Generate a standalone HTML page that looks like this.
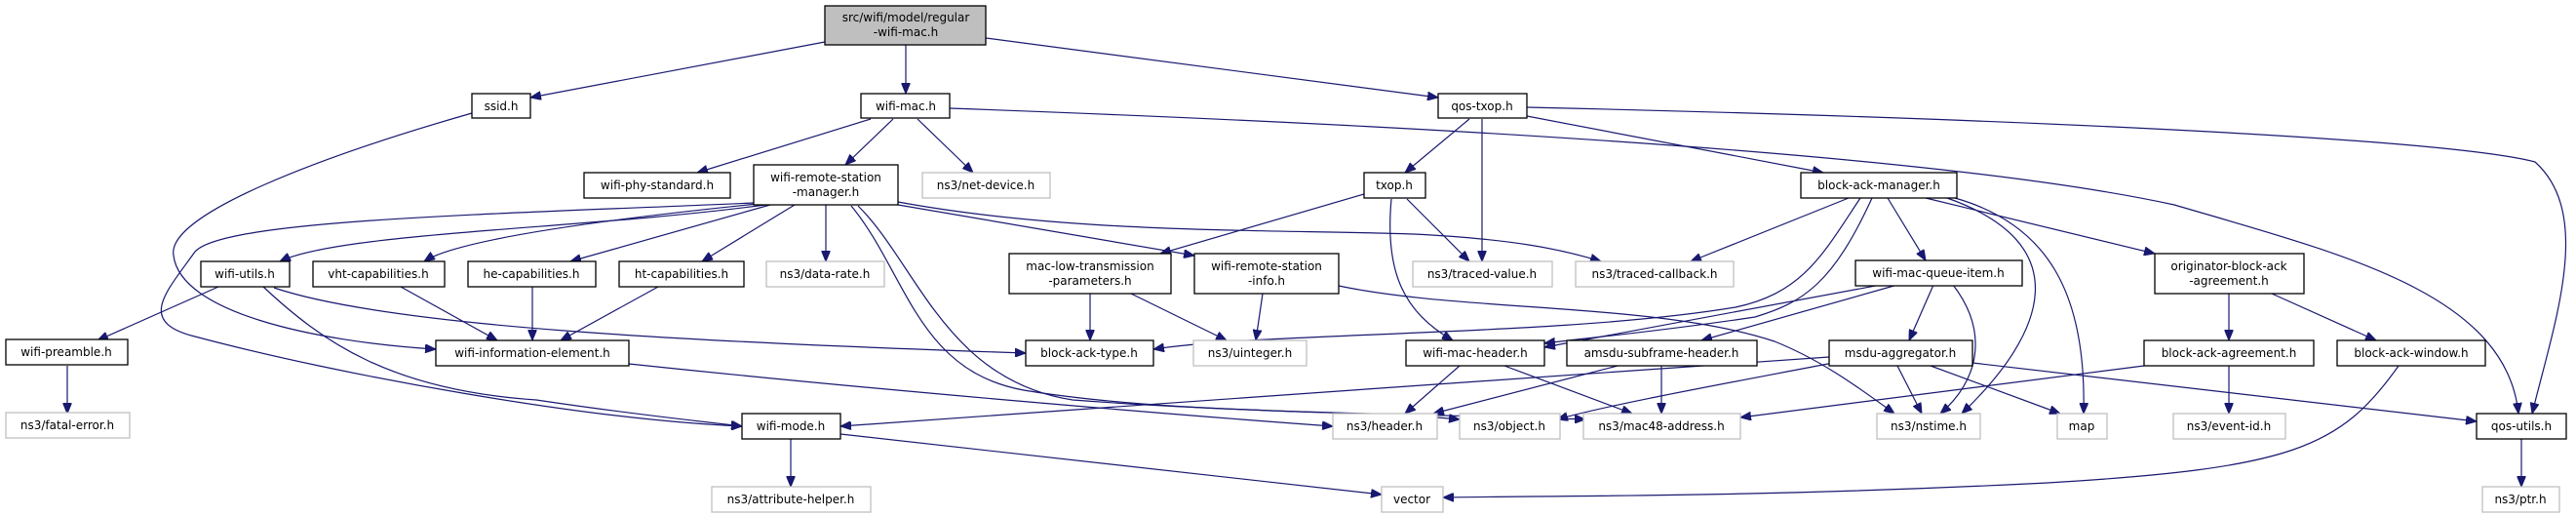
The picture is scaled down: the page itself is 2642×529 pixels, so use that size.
<!DOCTYPE html>
<html><head><meta charset="utf-8"><style>
html,body{margin:0;padding:0;background:#fff;}
svg{display:block;}
text{font-family:"DejaVu Sans","Liberation Sans",sans-serif;font-size:12px;fill:#000;text-anchor:middle;}
.n{fill:#fff;stroke:#000;stroke-width:1.3;}
.g{fill:#fff;stroke:#bfbfbf;stroke-width:1.3;}
.r{fill:#bfbfbf;stroke:#000;stroke-width:1.3;}
path.e{fill:none;stroke:#191970;stroke-width:1.2;marker-end:url(#a);}
</style></head><body>
<svg width="2642" height="529" viewBox="0 0 2642 529" xmlns="http://www.w3.org/2000/svg">
<defs><marker id="a" markerWidth="12" markerHeight="9" refX="11" refY="4.5" orient="auto" markerUnits="userSpaceOnUse"><path d="M0,0 L11,4.5 L0,9 Z" fill="#191970" stroke="#191970"/></marker></defs>

<!-- edges -->
<path class="e" d="M846,43 L544,100"/>
<path class="e" d="M929,46 L929,96"/>
<path class="e" d="M1011,39 L1475,100"/>
<path class="e" d="M484,116 C330,160 170,220 178,262 C185,320 320,350 447,358"/>
<path class="e" d="M893,122 L715,177"/>
<path class="e" d="M916,122 L867,169"/>
<path class="e" d="M941,122 L998,177"/>
<path class="e" d="M974,111 C1500,130 2000,160 2230,210 C2400,260 2570,300 2583,424"/>
<path class="e" d="M1566,110 C2000,120 2500,140 2600,166 C2660,220 2620,330 2597,424"/>
<path class="e" d="M1507,122 L1441,177"/>
<path class="e" d="M1520,122 L1520,268"/>
<path class="e" d="M1566,119 L1870,177"/>
<path class="e" d="M785,210 C600,235 350,238 287,268"/>
<path class="e" d="M777,209 C620,225 470,245 435,268"/>
<path class="e" d="M790,210 L585,268"/>
<path class="e" d="M815,210 L720,268"/>
<path class="e" d="M847,210 L847,268"/>
<path class="e" d="M773,208 C500,220 230,225 200,258 C170,300 140,330 200,345 C350,385 600,430 761,437"/>
<path class="e" d="M281,295 C400,335 700,350 1052,362"/>
<path class="e" d="M645,373 C900,400 1200,425 1367,437"/>
<path class="e" d="M873,211 C930,280 940,380 1050,400 C1200,425 1400,420 1497,430"/>
<path class="e" d="M880,211 C940,270 970,390 1100,410 C1300,425 1500,425 1626,430"/>
<path class="e" d="M921,210 L1225,262"/>
<path class="e" d="M921,207 C1100,240 1300,235 1450,240 C1550,245 1600,255 1642,268"/>
<path class="e" d="M1399,199 L1190,260"/>
<path class="e" d="M1427,204 C1420,280 1440,320 1490,349"/>
<path class="e" d="M1443,204 L1507,268"/>
<path class="e" d="M1118,301 L1118,349"/>
<path class="e" d="M1160,301 L1258,349"/>
<path class="e" d="M1295,301 L1288,349"/>
<path class="e" d="M1373,293 C1500,320 1700,310 1820,350 C1870,370 1910,400 1943,424"/>
<path class="e" d="M1896,203 L1734,268"/>
<path class="e" d="M1908,203 C1870,260 1850,300 1780,315 C1600,345 1300,340 1183,358"/>
<path class="e" d="M1920,203 C1880,290 1850,310 1800,325 C1700,340 1640,345 1584,352"/>
<path class="e" d="M1929,292 L1584,356"/>
<path class="e" d="M1936,203 L1975,267"/>
<path class="e" d="M1997,203 C2130,250 2100,340 2012,424"/>
<path class="e" d="M2005,203 C2100,230 2140,300 2137,424"/>
<path class="e" d="M1975,203 L2210,260"/>
<path class="e" d="M1946,292 L1745,349"/>
<path class="e" d="M1983,292 L1958,349"/>
<path class="e" d="M2003,292 C2040,340 2030,390 1990,424"/>
<path class="e" d="M1497,375 L1441,424"/>
<path class="e" d="M1543,375 L1674,424"/>
<path class="e" d="M1659,375 L1470,424"/>
<path class="e" d="M1704,375 L1704,424"/>
<path class="e" d="M1876,366 C1600,385 1100,420 862,437"/>
<path class="e" d="M1880,372 C1760,395 1650,415 1597,430"/>
<path class="e" d="M1946,375 L1971,424"/>
<path class="e" d="M1980,375 L2113,424"/>
<path class="e" d="M2023,372 L2540,432"/>
<path class="e" d="M2286,301 L2286,349"/>
<path class="e" d="M2330,301 L2437,349"/>
<path class="e" d="M2199,375 L1785,428"/>
<path class="e" d="M2286,375 L2286,424"/>
<path class="e" d="M2460,375 C2400,460 2350,480 2100,495 C1800,510 1600,508 1480,510"/>
<path class="e" d="M2586,450 L2586,499"/>
<path class="e" d="M811,450 L811,499"/>
<path class="e" d="M862,445 L1417,507"/>
<path class="e" d="M224,294 L100,349"/>
<path class="e" d="M270,294 C330,350 400,400 550,410 C650,425 720,432 761,437"/>
<path class="e" d="M411,294 L510,349"/>
<path class="e" d="M546,294 L546,349"/>
<path class="e" d="M675,294 L575,349"/>
<path class="e" d="M69,375 L69,424"/>

<!-- nodes -->
<rect class="r" x="846" y="6" width="165" height="40"/><text x="929" y="22">src/wifi/model/regular</text><text x="929" y="37">-wifi-mac.h</text>
<rect class="n" x="484" y="96" width="60" height="25"/><text x="514" y="113">ssid.h</text>
<rect class="n" x="883" y="96" width="91" height="25"/><text x="929" y="113">wifi-mac.h</text>
<rect class="n" x="1475" y="96" width="91" height="25"/><text x="1520" y="113">qos-txop.h</text>
<rect class="n" x="599" y="177" width="150" height="26"/><text x="674" y="194">wifi-phy-standard.h</text>
<rect class="n" x="773" y="169" width="148" height="41"/><text x="847" y="186">wifi-remote-station</text><text x="847" y="201">-manager.h</text>
<rect class="g" x="946" y="177" width="131" height="26"/><text x="1011" y="194">ns3/net-device.h</text>
<rect class="n" x="1399" y="177" width="63" height="26"/><text x="1430" y="194">txop.h</text>
<rect class="n" x="1847" y="177" width="160" height="26"/><text x="1927" y="194">block-ack-manager.h</text>
<rect class="n" x="206" y="268" width="91" height="26"/><text x="251" y="285">wifi-utils.h</text>
<rect class="n" x="321" y="268" width="135" height="26"/><text x="388" y="285">vht-capabilities.h</text>
<rect class="n" x="480" y="268" width="131" height="26"/><text x="545" y="285">he-capabilities.h</text>
<rect class="n" x="635" y="268" width="128" height="26"/><text x="699" y="285">ht-capabilities.h</text>
<rect class="g" x="786" y="268" width="121" height="26"/><text x="846" y="285">ns3/data-rate.h</text>
<rect class="n" x="1035" y="260" width="166" height="41"/><text x="1118" y="277">mac-low-transmission</text><text x="1118" y="292">-parameters.h</text>
<rect class="n" x="1225" y="260" width="148" height="41"/><text x="1299" y="277">wifi-remote-station</text><text x="1299" y="292">-info.h</text>
<rect class="g" x="1449" y="268" width="143" height="26"/><text x="1520" y="285">ns3/traced-value.h</text>
<rect class="g" x="1616" y="268" width="162" height="26"/><text x="1697" y="285">ns3/traced-callback.h</text>
<rect class="n" x="1903" y="267" width="171" height="26"/><text x="1988" y="284">wifi-mac-queue-item.h</text>
<rect class="n" x="2210" y="260" width="153" height="41"/><text x="2286" y="277">originator-block-ack</text><text x="2286" y="292">-agreement.h</text>
<rect class="n" x="6" y="348" width="125" height="26"/><text x="68" y="365">wifi-preamble.h</text>
<rect class="n" x="447" y="349" width="198" height="26"/><text x="546" y="366">wifi-information-element.h</text>
<rect class="n" x="1052" y="349" width="131" height="26"/><text x="1117" y="366">block-ack-type.h</text>
<rect class="g" x="1224" y="349" width="116" height="26"/><text x="1282" y="366">ns3/uinteger.h</text>
<rect class="n" x="1442" y="349" width="142" height="26"/><text x="1513" y="366">wifi-mac-header.h</text>
<rect class="n" x="1607" y="349" width="195" height="26"/><text x="1704" y="366">amsdu-subframe-header.h</text>
<rect class="n" x="1876" y="349" width="147" height="26"/><text x="1949" y="366">msdu-aggregator.h</text>
<rect class="n" x="2199" y="349" width="174" height="26"/><text x="2286" y="366">block-ack-agreement.h</text>
<rect class="n" x="2397" y="349" width="152" height="26"/><text x="2473" y="366">block-ack-window.h</text>
<rect class="g" x="6" y="423" width="127" height="26"/><text x="69" y="440">ns3/fatal-error.h</text>
<rect class="n" x="761" y="424" width="101" height="26"/><text x="811" y="441">wifi-mode.h</text>
<rect class="g" x="1367" y="424" width="107" height="26"/><text x="1420" y="441">ns3/header.h</text>
<rect class="g" x="1497" y="424" width="103" height="26"/><text x="1548" y="441">ns3/object.h</text>
<rect class="g" x="1624" y="424" width="161" height="26"/><text x="1704" y="441">ns3/mac48-address.h</text>
<rect class="g" x="1925" y="424" width="106" height="26"/><text x="1978" y="441">ns3/nstime.h</text>
<rect class="g" x="2110" y="424" width="51" height="26"/><text x="2135" y="441">map</text>
<rect class="g" x="2229" y="424" width="115" height="26"/><text x="2286" y="441">ns3/event-id.h</text>
<rect class="n" x="2540" y="424" width="92" height="26"/><text x="2586" y="441">qos-utils.h</text>
<rect class="g" x="730" y="499" width="163" height="26"/><text x="811" y="516">ns3/attribute-helper.h</text>
<rect class="g" x="1417" y="499" width="63" height="26"/><text x="1448" y="516">vector</text>
<rect class="g" x="2546" y="499" width="79" height="26"/><text x="2585" y="516">ns3/ptr.h</text>
</svg>
</body></html>
